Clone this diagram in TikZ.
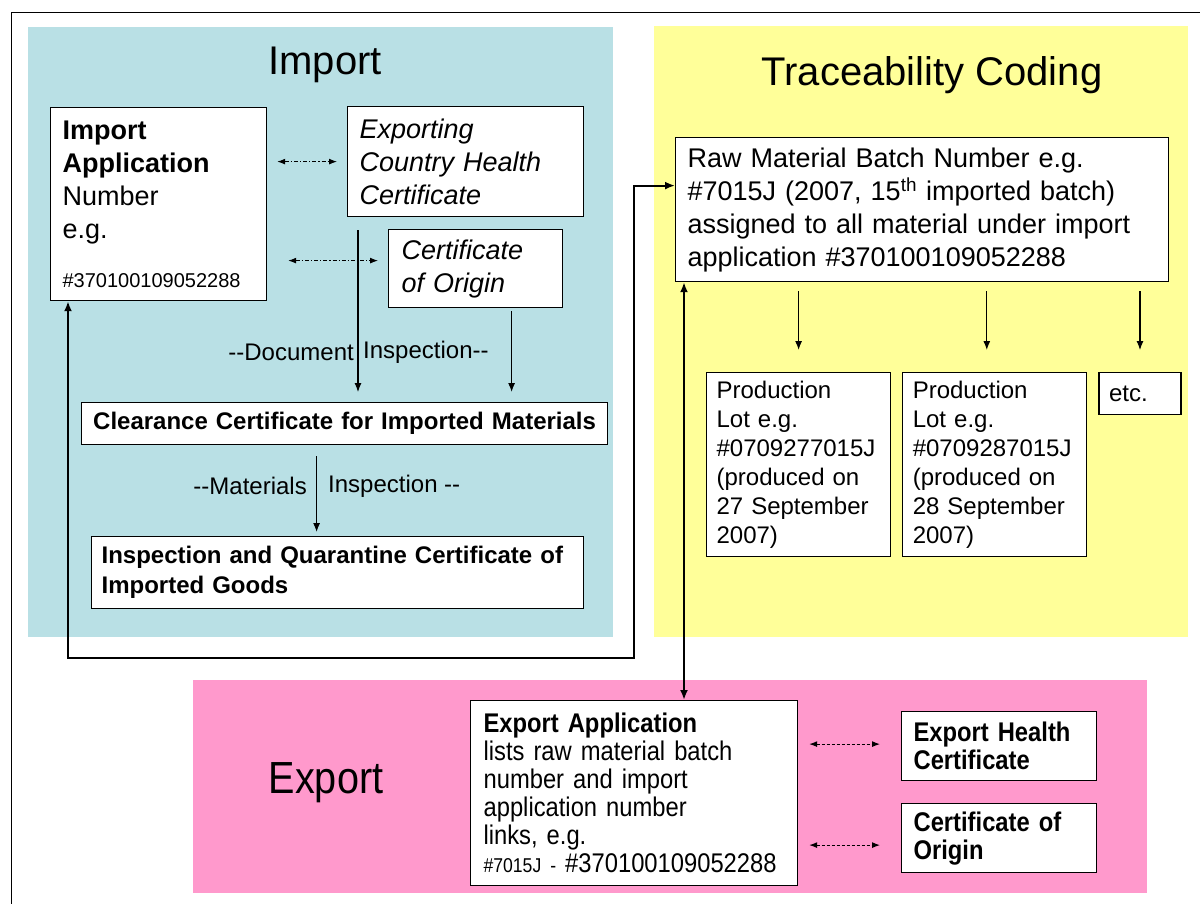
\documentclass[tikz,border=0pt]{standalone}
\usepackage{fontspec}
\setmainfont{Liberation Sans}
\newfontfamily\narrowsans{Liberation Sans}[FakeStretch=0.88]
\usepackage{tikz}
\usetikzlibrary{positioning,arrows.meta}

\definecolor{importblue}{RGB}{185,224,229}
\definecolor{traceyellow}{RGB}{255,255,153}
\definecolor{exportpink}{RGB}{255,153,204}

\tikzset{
  doc/.style={draw, fill=white, line width=1.2pt, anchor=north west, align=left,
    inner xsep=12pt, inner ysep=4pt, font=\fontsize{27}{33}\selectfont},
  lot/.style={doc, inner xsep=10pt, text width=164pt, minimum height=184pt,
    font=\fontsize{24}{29}\selectfont},
  expdoc/.style={doc, font=\narrowsans\fontsize{27}{28}\selectfont},
  heading/.style={font=\fontsize{40}{44}\selectfont},
  note/.style={font=\fontsize{24}{28}\selectfont, inner sep=1pt},
  flow/.style={-{Latex[length=9pt,width=7pt]}, line width=1.1pt},
  backlink/.style={{Latex[length=10pt,width=8pt]}-{Latex[length=10pt,width=8pt]}, line width=2pt},
  pairdd/.style={{Latex[length=8pt,width=6pt]}-{Latex[length=8pt,width=6pt]}, line width=1pt,
    dash pattern=on 4pt off 2pt on 1.2pt off 2pt},
  pairdash/.style={{Latex[length=8pt,width=6pt]}-{Latex[length=8pt,width=6pt]}, line width=1pt,
    dash pattern=on 3pt off 2pt}
}

\begin{document}
\begin{tikzpicture}[x=1pt,y=-1pt]
  \useasboundingbox (0,0) rectangle (1200,904);
  % frame and coloured areas
  \draw[line width=1pt] (11,904) -- (11,13) -- (1200,13);
  \fill[importblue] (28,27) rectangle (613,637);
  \fill[traceyellow] (654,26) rectangle (1188,637);
  \fill[exportpink] (193,680) rectangle (1147,893);

  \node[heading] (importtitle) at (325,65) {Import};
  \node[heading] (tracetitle) at (932,75) {Traceability Coding};
  \node[font=\narrowsans\fontsize{45}{50}\selectfont] (exporttitle) at (326,783) {Export};

  % import side
  \node[doc, text width=192pt, minimum height=193pt] (impapp) at (50,107)
    {\textbf{Import}\\ \textbf{Application}\\ Number\\ e.g.\\[16pt] {\fontsize{20}{24}\selectfont\#370100109052288}};
  \node[doc, text width=212pt, minimum height=110pt, font=\itshape\fontsize{27}{33}\selectfont] (exphc) at (347,106)
    {Exporting\\ Country Health\\ Certificate};
  \node[doc, inner xsep=13pt, text width=148pt, minimum height=78pt, font=\itshape\fontsize{27}{33}\selectfont] (coo) at (388,229)
    {Certificate\\ of Origin};
  \node[doc, align=center, inner xsep=3pt, text width=520pt, minimum height=42pt, font=\bfseries\fontsize{24}{30}\selectfont] (clr) at (81,402)
    {Clearance Certificate for Imported Materials};
  \node[doc, inner xsep=10pt, text width=472pt, minimum height=72pt, font=\bfseries\fontsize{24}{30}\selectfont] (iqc) at (91,536)
    {Inspection and Quarantine Certificate of\\ Imported Goods};

  \draw[pairdd, shorten <=10pt, shorten >=10pt] (impapp.east |- exphc.west) -- (exphc.west);
  \draw[pairdd, shorten <=21pt, shorten >=10pt] ([yshift=8pt]impapp.east |- coo.west) -- ([yshift=8pt]coo.west);
  \draw[flow, shorten <=13pt, shorten >=10pt] ([xshift=11pt]exphc.south west) -- ([xshift=11pt]exphc.south west |- clr.north);
  \draw[flow, shorten <=3pt, shorten >=10pt] ([xshift=36pt]coo.south) -- ([xshift=36pt]coo.south |- clr.north);
  \node[note, anchor=east] (docl) at (355,352) {-{}-Document};
  \node[note, anchor=west] (docr) at (362,352) {Inspection-{}-};
  \draw[flow, shorten <=11pt, shorten >=4pt] ([xshift=-28pt]clr.south) -- ([xshift=-28pt]clr.south |- iqc.north);
  \node[note, anchor=east] (matl) at (308,486) {-{}-Materials};
  \node[note, anchor=west] (matr) at (327,486) {Inspection -{}-};

  % traceability side
  \node[doc, text width=469pt, minimum height=144pt] (raw) at (675,137)
    {Raw Material Batch Number e.g.\\ \#7015J (2007, 15\textsuperscript{th} imported batch)\\ assigned to all material under import\\ application \#370100109052288};
  \node[lot] (lot1) at (706,372)
    {Production\\ Lot e.g.\\ \#0709277015J\\ (produced on\\ 27 September\\ 2007)};
  \node[lot] (lot2) at ([xshift=11pt]lot1.north east)
    {Production\\ Lot e.g.\\ \#0709287015J\\ (produced on\\ 28 September\\ 2007)};
  \node[doc, inner xsep=10pt, text width=62pt, minimum height=42pt, font=\fontsize{24}{29}\selectfont] (etc) at ([xshift=11pt]lot2.north east)
    {etc.};

  \draw[flow, shorten <=9pt, shorten >=22pt] (lot1.north |- raw.south) -- (lot1.north);
  \draw[flow, shorten <=9pt, shorten >=22pt] ([xshift=-8pt]lot2.north |- raw.south) -- ([xshift=-8pt]lot2.north);
  \draw[flow, shorten <=9pt, shorten >=22pt] (etc.north |- raw.south) -- (etc.north);

  % export side
  \node[expdoc, inner xsep=13pt, text width=301pt, minimum height=185pt] (expapp) at (470,700)
    {\textbf{Export Application}\\ lists raw material batch\\ number and import\\ application number\\ links, e.g.\\ {\fontsize{20}{28}\selectfont\#7015J -} \#370100109052288};
  \node[expdoc, text width=171pt, minimum height=69pt, font=\narrowsans\bfseries\fontsize{27}{28}\selectfont] (ehc) at (901,711)
    {Export Health\\ Certificate};
  \node[expdoc, text width=171pt, minimum height=69pt, font=\narrowsans\bfseries\fontsize{27}{28}\selectfont] (coo2) at (901,803)
    {Certificate of\\ Origin};

  \draw[pairdash, shorten <=11pt, shorten >=21pt] ([yshift=2pt]expapp.east |- ehc.west) -- ([yshift=2pt]ehc.west);
  \draw[pairdash, shorten <=11pt, shorten >=21pt] ([yshift=-7pt]expapp.east |- coo2.west) -- ([yshift=-7pt]coo2.west);

  % links between the three parts
  \coordinate (backL) at (68,658);
  \coordinate (backR) at (634,658);
  \draw[backlink] ([xshift=18pt]impapp.south west) -- (backL) -- (backR) |- ([yshift=24pt]raw.west);
  \draw[backlink] ([xshift=9pt]raw.south west) -- ([xshift=9pt]raw.south west |- expapp.north);
\end{tikzpicture}
\end{document}
